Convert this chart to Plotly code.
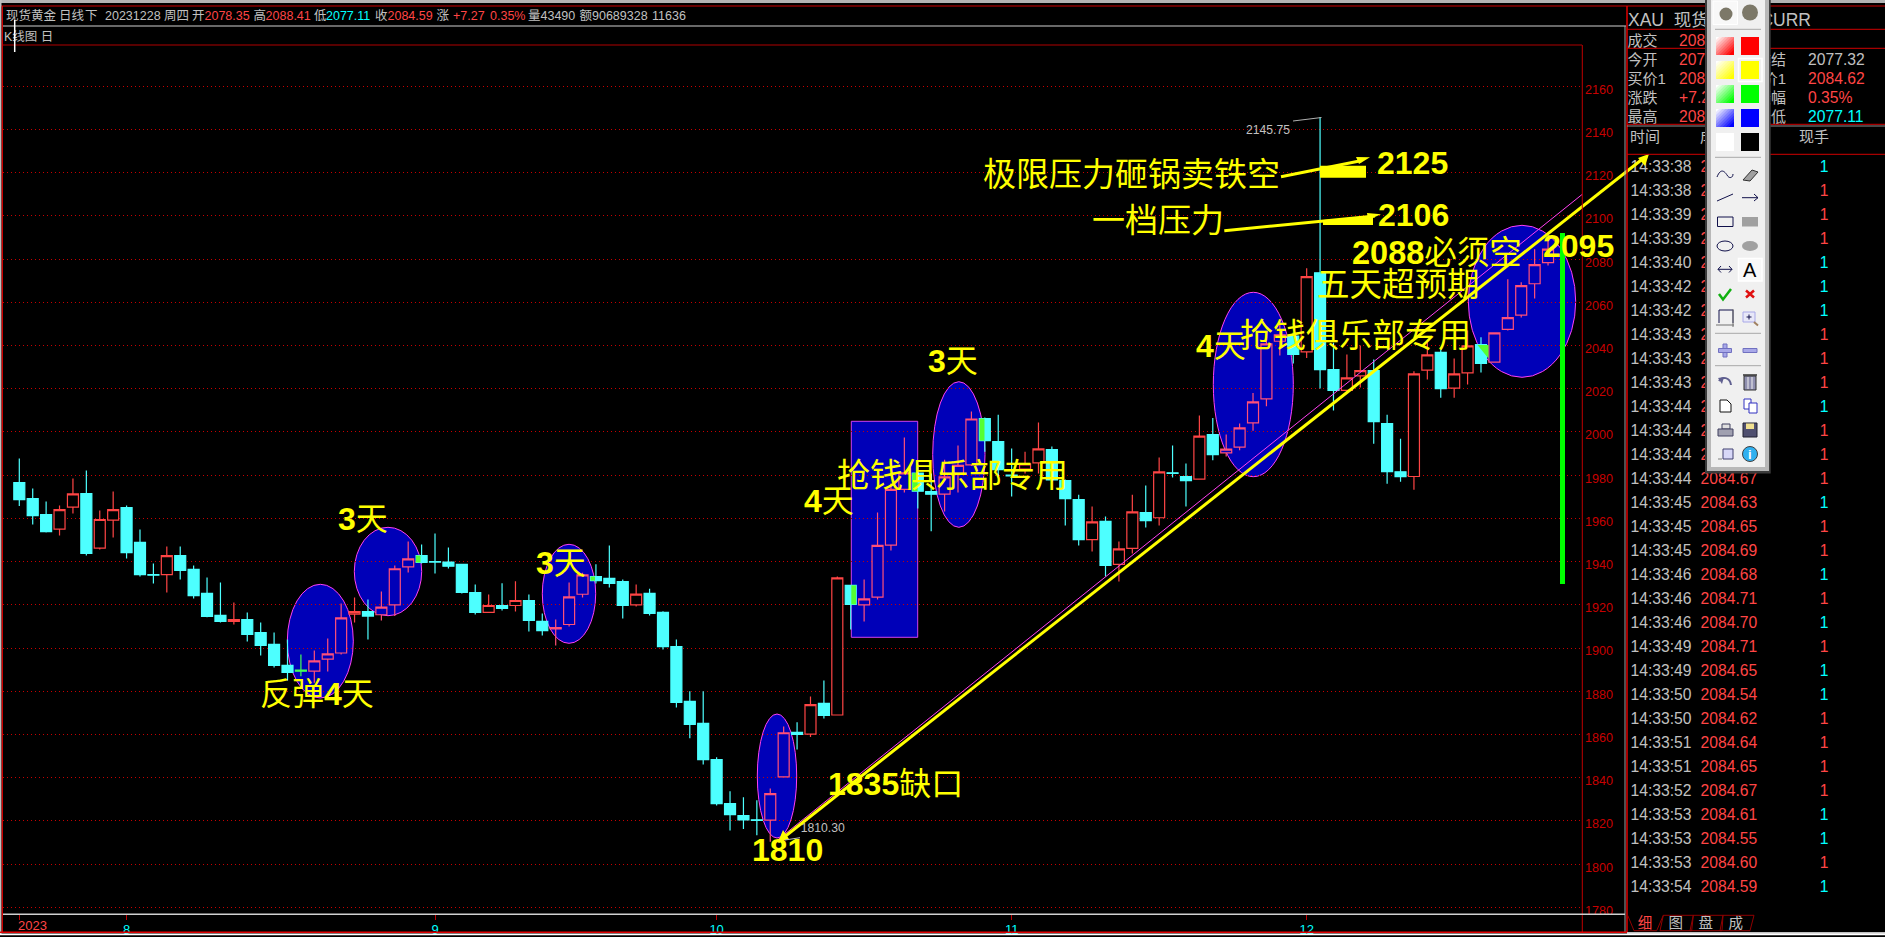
import plotly.graph_objects as go

# ---------- DATA ----------
opens = [1976.6,1969.2,1961.8,1955.0,1965.2,1971.5,1946.2,1959.2,1965.0,1948.9,
1934.0,1934.0,1942.8,1936.4,1925.3,1915.1,1912.3,1913.2,1907.2,1901.7,
1892.0,1889.8,1889.3,1894.9,1897.7,1915.7,1916.9,1915.4,1920.0,1937.6,
1942.8,1940.0,1939.8,1938.7,1925.7,1916.5,1919.7,1919.7,1922.0,1912.3,
1908.9,1910.9,1924.9,1933.1,1932.2,1930.8,1920.0,1925.3,1916.5,1900.7,
1875.3,1865.1,1848.4,1828.0,1822.4,1820.5,1820.4,1840.4,1861.0,1860.2,
1874.4,1869.0,1929.0,1920.0,1923.6,1947.6,1973.4,1981.0,1972.4,1971.2,
1980.8,1984.8,2006.2,1995.6,1980.0,1982.8,1985.7,1991.9,1977.5,1968.7,
1950.2,1958.6,1938.7,1946.1,1962.7,1960.3,1981.1,1979.4,1978.2,1998.8,
1990.3,1993.0,2004.2,2015.3,2042.0,2044.4,2037.1,2073.7,2028.9,2019.3,
2026.0,2028.4,2003.9,1981.6,1979.4,2028.6,2036.8,2020.3,2027.4,2040.5,
2032.3,2047.5,2054.1,2068.6,2078.35]
closes = [1968.7,1961.3,1953.9,1964.1,1971.4,1943.8,1959.5,1964.1,1944.2,1934.0,
1933.7,1942.8,1935.9,1924.3,1914.6,1912.3,1913.2,1906.3,1901.2,1892.0,
1888.7,1889.3,1894.1,1897.3,1914.0,1916.9,1914.8,1918.9,1936.7,1941.3,
1939.6,1939.8,1937.9,1925.7,1916.5,1919.7,1918.3,1922.0,1912.8,1908.1,
1909.5,1923.7,1933.9,1931.2,1929.9,1919.7,1925.0,1916.0,1900.7,1874.8,
1864.7,1848.4,1828.0,1822.9,1820.5,1820.2,1832.6,1860.8,1860.0,1873.8,
1868.8,1932.5,1920.2,1922.8,1947.5,1973.4,1981.1,1972.6,1971.2,1979.2,
1984.5,2006.0,1996.0,1982.6,1979.7,1985.2,1992.2,1977.8,1969.2,1950.2,
1958.4,1938.2,1945.9,1963.0,1959.0,1981.5,1980.8,1977.5,1998.1,1989.5,
1992.1,2001.9,2013.9,2040.8,2045.0,2035.9,2071.9,2028.9,2019.2,2025.0,
2028.4,2004.8,1981.6,1979.3,2026.9,2035.7,2020.1,2026.9,2039.9,2031.7,
2045.9,2052.9,2067.7,2077.5,2084.59]
highs = [1987.7,1973.8,1967.8,1966.0,1978.5,1982.2,1963.7,1972.4,1966.0,1954.9,
1939.1,1947.0,1947.0,1938.2,1932.7,1930.3,1921.1,1916.5,1911.8,1907.2,
1904.0,1897.0,1898.9,1904.4,1920.6,1923.4,1922.5,1926.2,1938.2,1949.3,
1947.9,1953.0,1946.5,1939.0,1929.4,1924.8,1930.0,1930.9,1924.8,1916.0,
1913.2,1930.3,1934.9,1938.8,1947.5,1931.7,1929.4,1927.5,1917.0,1904.0,
1880.0,1880.0,1849.4,1833.7,1830.9,1829.5,1835.0,1863.7,1865.6,1877.6,
1885.0,1933.1,1929.0,1931.7,1962.7,1976.1,1997.4,1985.0,1980.8,1987.2,
1993.7,2009.5,2006.7,2008.0,1992.3,1990.9,2004.4,1993.3,1978.0,1971.0,
1965.5,1960.9,1949.3,1971.0,1975.2,1988.2,1993.7,1985.4,2007.6,2006.5,
1998.8,2003.9,2018.1,2046.0,2050.0,2046.0,2075.8,2145.75,2041.3,2035.9,
2040.0,2033.5,2008.0,1996.9,2028.1,2041.9,2039.1,2034.0,2047.0,2043.8,
2045.9,2070.7,2069.3,2084.6,2088.41]
lows = [1965.7,1957.2,1953.5,1952.1,1962.3,1942.8,1945.6,1951.2,1941.4,1933.1,
1929.9,1925.7,1931.7,1922.9,1914.2,1911.8,1910.9,1903.0,1896.6,1891.0,
1885.0,1886.9,1883.9,1889.2,1897.0,1911.8,1904.0,1912.8,1914.8,1935.0,
1939.1,1934.5,1936.8,1925.3,1915.5,1916.3,1917.4,1916.9,1907.7,1905.8,
1901.2,1910.0,1923.4,1929.9,1928.0,1913.7,1919.2,1915.1,1899.3,1872.5,
1858.2,1846.1,1827.1,1815.5,1816.3,1813.3,1810.3,1840.2,1853.1,1858.8,
1867.4,1868.8,1908.6,1912.3,1922.5,1945.2,1972.0,1964.6,1954.0,1963.2,
1972.0,1984.2,1990.9,1978.9,1970.1,1980.8,1980.8,1977.0,1956.7,1947.5,
1944.7,1933.1,1930.8,1943.8,1955.8,1956.7,1978.9,1965.5,1978.0,1986.9,
1988.6,1991.5,2000.6,2011.9,2035.4,2031.7,2034.3,2020.1,2009.9,2019.0,
2020.6,1994.6,1976.0,1977.0,1973.3,2024.3,2015.9,2015.9,2022.0,2027.5,
2032.0,2047.0,2053.0,2061.8,2077.11]
assert len(opens) == len(closes) == len(highs) == len(lows) == 115
day_index = list(range(115))
# candles that sit on a blue marker
marked = {21,22,23,24, 27,28,29, 40,41,42, 56,57, 63,64,65,66, 69,70,71,
          90,91,92,93,94, 110,111,112,113,114}

month_ticks = [0, 8, 31, 52, 74, 96]
month_labels = ["", "8", "9", "10", "11", "12"]

tape_times = ["14:33:38","14:33:38","14:33:39","14:33:39","14:33:40","14:33:42","14:33:42",
"14:33:43","14:33:43","14:33:43","14:33:44","14:33:44","14:33:44","14:33:44","14:33:45",
"14:33:45","14:33:45","14:33:46","14:33:46","14:33:46","14:33:49","14:33:49","14:33:50",
"14:33:50","14:33:51","14:33:51","14:33:52","14:33:53","14:33:53","14:33:53","14:33:54"]
tape_prices = ["2084.62","2084.64","2084.66","2084.65","2084.63","2084.61","2084.60","2084.63",
"2084.65","2084.66","2084.64","2084.66","2084.68","2084.67","2084.63","2084.65","2084.69",
"2084.68","2084.71","2084.70","2084.71","2084.65","2084.54","2084.62","2084.64","2084.65",
"2084.67","2084.61","2084.55","2084.60","2084.59"]
tape_up = [0,1,1,1,0,0,0,1,1,1,0,1,1,1,0,1,1,0,1,0,1,0,0,1,1,1,1,0,0,1,0]

# ---------- STYLE ----------
W, H = 1885, 937
RED, CYAN, YEL, GREY = "#FF4545", "#00FFFF", "#FFFF00", "#C0C0C0"
BODY = "#4DFFFF"
BLUE = "#0000B8"
MAG = "#FF40F0"
DRED = "#C80000"
SANS = "Liberation Sans, Noto Sans CJK SC"

# plot area in page pixels
PL, PR, PT, PB = 3, 1582, 45, 914
def xdata(px): return (px - 19.3) / 13.41
def ydata(py): return 2140 - (py - 129.5) / 2.1606

fig = go.Figure()

def candles(idx, inc_line, inc_fill, dec_line, dec_fill):
    fig.add_trace(go.Candlestick(
        x=[day_index[i] for i in idx], open=[opens[i] for i in idx], high=[highs[i] for i in idx],
        low=[lows[i] for i in idx], close=[closes[i] for i in idx],
        increasing=dict(line=dict(color=inc_line, width=1.2), fillcolor=inc_fill),
        decreasing=dict(line=dict(color=dec_line, width=1.2), fillcolor=dec_fill),
        whiskerwidth=0, hoverinfo="skip", showlegend=False, xaxis="x", yaxis="y"))

candles([i for i in day_index if i not in marked], RED, "#000000", BODY, BODY)
candles(sorted(marked), "#FF5078", BLUE, "#44FF55", "#44FF55")

# ---------- text living under the tool palette (scatter text on a page-pixel overlay) ----------
texts = {}
def txt(x, y, s, color=GREY, size=15.7, anchor="middle right"):
    texts.setdefault((color, size, anchor), []).append((x, y, s))

# header
for x, s, c in [(6,"现货黄金",GREY),(59,"日线",GREY),(85,"下",GREY),(105,"20231228",GREY),(164,"周四",GREY),
                (192,"开",GREY),(204.5,"2078.35",RED),(253.5,"高",GREY),(265.6,"2088.41",RED),(314,"低",GREY),
                (326,"2077.11",CYAN),(375,"收",GREY),(387.5,"2084.59",RED),(436.6,"涨",GREY),(453,"+7.27",RED),
                (490,"0.35%",RED),(528,"量43490",GREY),(579.5,"额90689328",GREY),(652,"11636",GREY)]:
    txt(x, 17, s, c, 12.5)
txt(4, 38, "K线图 日", GREY, 12.5)
txt(18, 926.5, "2023", RED, 13)

# quote panel
txt(1628, 22, "XAU  现货黄金", GREY, 17.5)
txt(1811, 22, "XAUCURR", GREY, 17.5, "middle left")
for y, a, av, ac, b, bv, bc in [
    (42.5,"成交","2084.59",RED,"","",GREY),
    (61.5,"今开","2078.35",RED,"昨结","2077.32",GREY),
    (80.5,"买价1","2084.56",RED,"卖价1","2084.62",RED),
    (99.5,"涨跌","+7.27",RED,"振幅","0.35%",RED),
    (118.5,"最高","2088.41",RED,"最低","2077.11",CYAN)]:
    txt(1627.5, y, a, GREY, 15)
    txt(1679, y, av, ac, 15.7)
    if b:
        txt(1786, y, b, GREY, 15, "middle left")
        txt(1808, y, bv, bc, 15.7)
txt(1630, 138, "时间", GREY, 15)
txt(1700, 138, "成交", GREY, 15)
txt(1799, 138, "现手", GREY, 15)
for k, (t, p, u) in enumerate(zip(tape_times, tape_prices, tape_up)):
    y = 167.7 + 24 * k
    txt(1630.5, y, t, GREY)
    txt(1700.5, y, p, RED)
    txt(1824, y, "1", RED if u else CYAN, 15.7, "middle center")
for x, s, c in [(1645,"细",RED),(1675.7,"图",GREY),(1705.7,"盘",GREY),(1735.7,"成",GREY)]:
    txt(x, 924, s, c, 14.5, "middle center")
txt(1246, 131, "2145.75", GREY, 12.2)
txt(800.7, 829, "1810.30", GREY, 12.2)

for (c, s, a), items in texts.items():
    fig.add_trace(go.Scatter(x=[i[0] for i in items], y=[i[1] for i in items], text=[i[2] for i in items],
        mode="text", textposition=a, textfont=dict(color=c, size=s, family=SANS),
        hoverinfo="skip", showlegend=False, xaxis="x2", yaxis="y2", cliponaxis=False))

# ---------- shapes ----------
shapes = []
def pagepath(d, fill=None, line=None, lw=1, layer="above"):
    shapes.append(dict(type="path", path=d, xref="x2", yref="y2", layer=layer,
                       fillcolor=fill if fill else "rgba(0,0,0,0)",
                       line=dict(color=line if line else "rgba(0,0,0,0)", width=lw if line else 0)))
def pagerect(x0, y0, x1, y1, fill=None, line=None, lw=1, layer="above"):
    shapes.append(dict(type="rect", x0=x0, y0=y0, x1=x1, y1=y1, xref="x2", yref="y2", layer=layer,
                       fillcolor=fill if fill else "rgba(0,0,0,0)",
                       line=dict(color=line if line else "rgba(0,0,0,0)", width=lw if line else 0)))
def pageoval(x0, y0, x1, y1, fill=None, line=None, lw=1):
    shapes.append(dict(type="circle", x0=x0, y0=y0, x1=x1, y1=y1, xref="x2", yref="y2", layer="above",
                       fillcolor=fill if fill else "rgba(0,0,0,0)",
                       line=dict(color=line if line else "rgba(0,0,0,0)", width=lw if line else 0)))
def pageline(x0, y0, x1, y1, color, lw=1, dash=None):
    ln = dict(color=color, width=lw)
    if dash: ln["dash"] = dash
    shapes.append(dict(type="line", x0=x0, y0=y0, x1=x1, y1=y1, xref="x2", yref="y2", layer="above", line=ln))

# blue markers on the chart (under grid and candles)
ovals = [(287.3,584.3,353.3,698),(354.3,527.3,421.7,615.7),(542.3,544.3,595.7,643.3),(757.3,714,796.7,838),
         (932.7,381.7,985,527.3),(1213.3,292.3,1293.3,476.7),(1468.3,225.3,1575.7,377.3)]
for x0, y0, x1, y1 in ovals:
    shapes.append(dict(type="circle", xref="x", yref="y", layer="below", x0=xdata(x0), x1=xdata(x1),
                       y0=ydata(y1), y1=ydata(y0), fillcolor=BLUE, line=dict(color=MAG, width=1)))
shapes.append(dict(type="rect", xref="x", yref="y", layer="below", x0=xdata(851.3), x1=xdata(917.7),
                   y0=ydata(637.3), y1=ydata(421.3), fillcolor=BLUE, line=dict(color="#D040F0", width=1)))

# cyan bodies turn green where a marker overlaps them
GRN = "#55FF33"
for i, xa, xb in [(30,416,420.5),(43,590.5,595),(62,851.3,856),(67,912.3,917.7),(72,979.5,984.5)]:
    shapes.append(dict(type="rect", xref="x", yref="y", layer="above", x0=xdata(xa), x1=xdata(xb),
                       y0=closes[i], y1=opens[i], fillcolor=GRN, line=dict(width=0)))
pagepath("M1477.5,345 L1488.5,345 L1488.5,358.5 Z", fill=GRN)

# trend lines and arrows
pageline(775, 842, 1582.3, 194.3, MAG, 1)
pageline(778, 842, 1645, 157, YEL, 3)
pagepath("M1649,154 L1638,158 L1645,166 Z", fill=YEL)
pagepath("M778,842 L789,839 L783,830 Z", fill=YEL)
pageline(1281, 176.7, 1362, 160.5, YEL, 3)
pagepath("M1370,157.3 L1356,157 L1359,164 Z", fill=YEL)
pagerect(1320, 165.7, 1366, 177.7, fill=YEL)
pageline(1224.3, 230.7, 1375, 216, YEL, 3)
pagepath("M1381,214.3 L1367,213 L1368,220 Z", fill=YEL)
pagepath("M1323,220 L1373,216.7 L1373,225 L1323,225 Z", fill=YEL)
pagerect(1560, 233, 1565, 584, fill="#00FF00")
pagepath("M1293,121 L1321.5,117.5", line="#B0B0B0")
pageline(785, 840, 800, 837.7, "#C0C0C0", 1)

# window frame
pagerect(0, 0, W, 3, fill="#B4B4B4", layer="above")
pageline(0, 6, W, 6, "#D00000", 1.2)
pagerect(0, 0, 1.5, 934, fill="#C0C0C0")
pagerect(1.7, 6, 3, 933, fill="#D00000")
pageline(3, 26, 1626, 26, "#D0D0D0", 1)
pageline(3, 45, 1582, 45, "#B00000", 1)
pageline(1582.3, 45, 1582.3, 932, "#C00000", 1)
pageline(1625, 26, 1625, 932, "#A0A0A0", 1)
pageline(1627, 6, 1627, 932, "#E00000", 1.5)
pageline(3, 914.3, 1625, 914.3, "#D0D0D0", 1.5)
pageline(0, 932.3, 1627, 932.3, "#E00000", 1.5)
pagerect(1627, 932, W, 934, fill="#C0C0C0")
pagerect(0, 933.4, W, 935.2, fill="#FFFFFF")
pageline(14.7, 20, 14.7, 52, "#FFFFFF", 1.5)
for y, c in [(29.3,"#D00000"),(48.3,"#D00000"),(124.3,"#D00000"),(126,"#909090"),(154.3,"#D00000")]:
    pageline(1627, y, W, y, c, 1)
for xs in [(1627.7,1634,1656.7,1663.3),(1663.3,1660,1691.7,1693.3),(1693.3,1690,1722,1723),(1723,1720,1750,1754)]:
    a, b, c, d = xs
    pagepath(f"M{a},915.3 L{b},930.7 L{c},930.7 L{d},915.3", line="#900000")
pageline(1663.3, 915.3, 1754, 915.3, "#900000", 1)

# ---------- tool palette ----------
pagerect(1705, 0, 1770.7, 473.5, fill="#3C3C3C")
pagerect(1707, 0, 1769, 471, fill="#B8B8B8")
pagerect(1711, 0, 1765, 467, fill="#F0F0F0")
pagerect(1713, 1, 1737.5, 24.5, fill="#F8F8F8", line="#FFFFFF")
pageoval(1719.5, 7.5, 1732.5, 20.5, fill="#7C7868")
pageoval(1742, 4.5, 1758, 20.5, fill="#7C7868")
for y in [29.3, 157.3, 333.3, 365.7]:
    pageline(1715, y, 1761, y, "#A8A8A8", 1)
solid = ["#FF0000", "#FFFF00", "#00FF00", "#0000FF"]
for r, col in enumerate(solid):
    y0 = 37 + r * 24
    rgb = [int(col[k:k+2], 16) for k in (1, 3, 5)]
    pagerect(1716, y0, 1734, y0 + 18, fill="#FFFFFF")
    for k in range(1, 11):
        t = k / 10 * 1.7
        mix = [round(255 + (v - 255) * k / 10) for v in rgb]
        fillc = f"rgb({mix[0]},{mix[1]},{mix[2]})"
        if t <= 1:
            pts = f"M{1716+18*t},{y0} L1734,{y0} L1734,{y0+18} L1716,{y0+18} L1716,{y0+18*t} Z"
        else:
            d = t - 1
            pts = f"M1734,{y0+18*d} L1734,{y0+18} L{1716+18*d},{y0+18} Z"
        pagepath(pts, fill=fillc)
    pagerect(1741, y0, 1759, y0 + 18, fill=col)
pagerect(1738.5, 58.5, 1762, 81.5, line="#FFFFFF", lw=1.5)
pagerect(1716, 133, 1734, 151, fill="#FFFFFF")
pagerect(1741, 133, 1759, 151, fill="#000000")
NAVY = "#10104A"
GR = "#A0A0A0"
PERI = "#A8A8E8"
# freehand, eraser
pagepath("M1717,177 C1721,167 1725,172 1727,175 C1729,179 1733,178 1733,174", line=NAVY)
pagepath("M1743,180 L1752,170 L1758,172 L1750,181 Z", fill=GR, line="#303030")
# line, arrow
pageline(1717, 201, 1733, 194, NAVY)
pageline(1742, 197.7, 1758, 197.7, NAVY)
pagepath("M1754,194 L1758,197.7 L1754,201", line=NAVY)
# rectangles, ellipses
pagerect(1717.5, 217, 1733, 226.5, line=NAVY)
pagerect(1742, 217, 1758, 226.5, fill=GR)
pageoval(1717, 241, 1733, 251, line=NAVY)
pageoval(1742, 241, 1758, 251, fill=GR)
# double arrow, text tool
pageline(1718, 269.3, 1732, 269.3, NAVY)
pagepath("M1721,266 L1718,269.3 L1721,272.5 M1729,266 L1732,269.3 L1729,272.5", line=NAVY)
pagerect(1738.5, 258.5, 1762, 281, fill="#F8F8F8", line="#FFFFFF", lw=1.5)
# tick and cross
pagepath("M1719,294 L1723,299.5 L1731,289", line="#10B010", lw=2.5)
pagepath("M1746,290.5 L1754,297.5 M1754,290.5 L1746,297.5", line="#E01010", lw=2.5)
# crop, zoom
pagepath("M1719,310 L1733,310 L1733,323 M1719,310 L1719,323", line=NAVY, lw=1)
pageline(1716, 325, 1734, 325, "#707070")
pageline(1733, 309, 1733, 327, "#707070")
pagerect(1743, 312, 1755, 322, fill="#E8E8F8", line=PERI)
pageline(1749, 314.5, 1749, 319.5, NAVY)
pageline(1746.5, 317, 1751.5, 317, NAVY)
pageline(1754, 322, 1758, 325.5, "#A08060", 2)
# plus, minus
pagerect(1723, 344, 1727, 357, fill=PERI, line="#7070C0")
pagerect(1718.5, 348.5, 1731.5, 352.5, fill=PERI, line="#7070C0")
pagerect(1743, 348.5, 1757, 352.5, fill=PERI, line="#7070C0")
# undo, trash
pagepath("M1719,381 C1722,376 1730,377 1731,385", line="#606090", lw=2)
pagepath("M1718,378 L1724,377 L1722,384 Z", fill="#606090")
pagerect(1744, 376, 1756, 390, fill="#9090B0", line="#303030")
pageline(1743, 375, 1757, 375, "#303030", 1.5)
pageline(1748, 377, 1748, 389, "#F0F0F0")
pageline(1752, 377, 1752, 389, "#F0F0F0")
# page, copy
pagepath("M1720,400 L1727,400 L1731,404 L1731,412 L1720,412 Z", fill="#FFFFFF", line="#101010")
pagerect(1744, 399, 1751, 409, fill="#FFFFFF", line="#3030C0")
pagerect(1749, 403, 1757, 413, fill="#FFFFFF", line="#3030C0")
# printer, disk
pagerect(1722, 424, 1730, 429, fill="#E0E0E0", line="#404060")
pagerect(1718, 429, 1733, 436, fill="#A0A0B0", line="#404060")
pagerect(1743, 423, 1757, 437, fill="#505070", line="#202030")
pagerect(1746, 423.5, 1754, 429, fill="#F0E090")
# note, info
pagerect(1723, 449, 1733, 459, fill="#D8D8F8", line="#404070")
pageline(1718, 459, 1722, 459, "#808080")
pageoval(1742.5, 446.5, 1757.5, 461.5, fill="#30B0F0", line="#404040")

fig.update_layout(shapes=shapes)

# ---------- annotations ----------
notes = [(260,694,"反弹<b>4</b>天",32),(338,519,"<b>3</b>天",32),(536,563,"<b>3</b>天",32),(751.7,850,"<b>1810</b>",32),
         (828,784,"<b>1835</b>缺口",32),(804,501,"<b>4</b>天",32),(837,475,"抢钱俱乐部专用",33),(928,361,"<b>3</b>天",32),
         (1196,346,"<b>4</b>天",32),(1240,335,"抢钱俱乐部专用",33),(1317,285,"五天超预期",32.5),(1352,253,"<b>2088</b>必须空",32.5),
         (1543,246,"<b>2095</b>",32),(1378,215,"<b>2106</b>",32),(1377,163,"<b>2125</b>",32),(1092,220,"一档压力",33),
         (983,174,"极限压力砸锅卖铁空",33)]
ann = [dict(x=x, y=y, xref="x2", yref="y2", text=s, showarrow=False, xanchor="left", yanchor="middle",
            font=dict(color=YEL, size=z, family=SANS), borderpad=0, borderwidth=0) for x, y, s, z in notes]
ann.append(dict(x=1750, y=269.5, xref="x2", yref="y2", text="A", showarrow=False,
                font=dict(color="#000000", size=20, family=SANS)))
ann.append(dict(x=1750, y=454, xref="x2", yref="y2", text="<b>i</b>", showarrow=False,
                font=dict(color="#FFFFFF", size=13, family=SANS)))
fig.update_layout(annotations=ann)

# ---------- axes ----------
fig.update_layout(
    width=W, height=H, autosize=False, paper_bgcolor="#000000", plot_bgcolor="rgba(0,0,0,0)",
    margin=dict(l=0, r=0, t=0, b=0, pad=0, autoexpand=False), showlegend=False,
    boxmode="overlay", boxgap=0.18, boxgroupgap=0,
    hovermode=False, font=dict(family=SANS),
    xaxis=dict(domain=[PL / W, PR / W], range=[xdata(PL), xdata(PR)], tickvals=month_ticks, ticktext=month_labels,
               showgrid=False, zeroline=False, showline=False, ticks="outside", ticklen=5, tickwidth=1,
               tickcolor="#C00000", tickfont=dict(color=CYAN, size=13, family=SANS), rangeslider=dict(visible=False),
               ticklabelstandoff=-2, fixedrange=True, anchor="y"),
    yaxis=dict(domain=[1 - PB / H, 1 - PT / H], range=[ydata(PB), ydata(PT)], side="right", tick0=1780, dtick=20,
               showgrid=True, gridcolor="#C80000", griddash="1px,3px", gridwidth=1, zeroline=False, showline=False,
               ticks="", tickfont=dict(color=DRED, size=12.6, family=SANS), ticklabelshift=3, ticklabelstandoff=2,
               fixedrange=True, tickformat="d", anchor="x"),
    xaxis2=dict(domain=[0, 1], range=[0, W], visible=False, fixedrange=True, anchor="y2"),
    yaxis2=dict(domain=[0, 1], range=[H, 0], visible=False, fixedrange=True, anchor="x2"),
)

fig.write_html("out.html", include_plotlyjs=True, config=dict(displayModeBar=False, responsive=False),
               post_script="document.body.style.margin='0';document.body.style.background='#000';document.body.style.overflow='hidden';")
